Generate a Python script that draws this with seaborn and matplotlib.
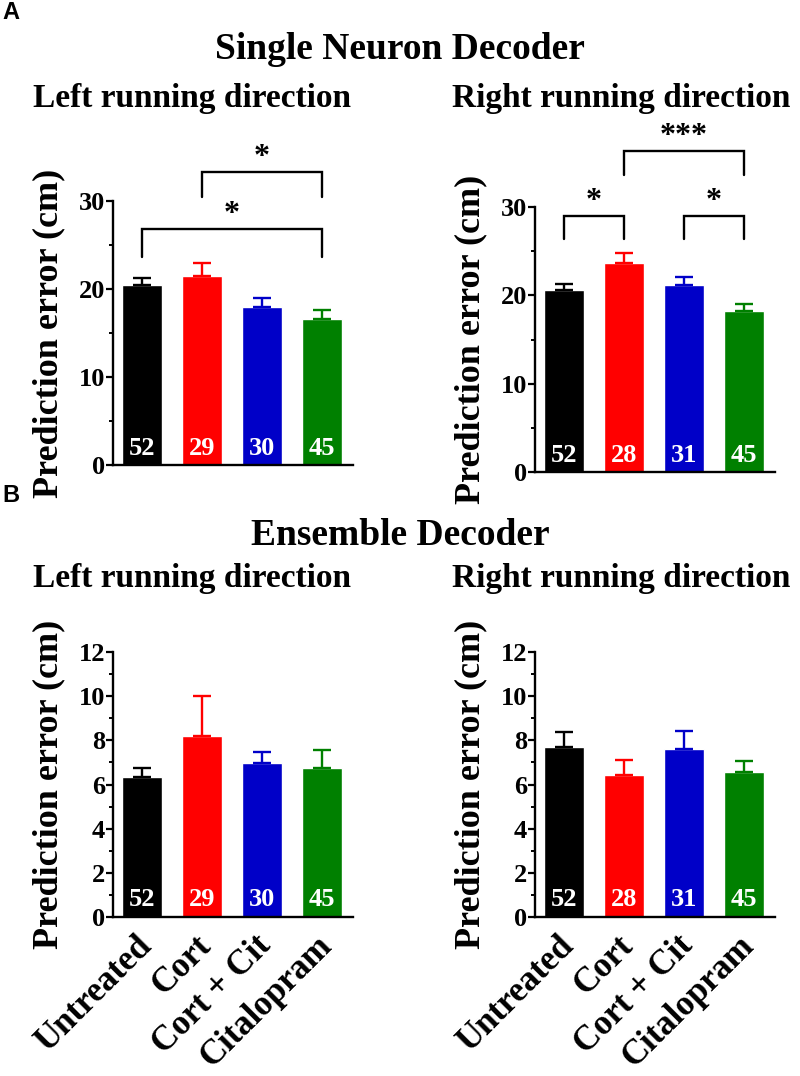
import numpy as np
import matplotlib
matplotlib.use("Agg")
import matplotlib.pyplot as plt
import seaborn as sns
from matplotlib.ticker import MultipleLocator
from matplotlib.transforms import ScaledTranslation

# DONNEES

groups = ["Untreated", "Cort", "Cort + Cit", "Citalopram"]
bar_colors = ["#000000", "#ff0000", "#0000c8", "#008000"]

# single neuron decoder
single_left_mean = [20.5, 21.5, 17.9, 16.6]
single_left_sem = [0.7, 1.4, 1.1, 1.0]
single_left_n = [52, 29, 30, 45]
single_right_mean = [20.6, 23.7, 21.2, 18.2]
single_right_sem = [0.7, 1.1, 0.9, 0.8]
single_right_n = [52, 28, 31, 45]

# ensemble decoder
ens_left_mean = [6.36, 8.18, 6.96, 6.76]
ens_left_sem = [0.40, 1.84, 0.50, 0.80]
ens_left_n = [52, 29, 30, 45]
ens_right_mean = [7.72, 6.45, 7.62, 6.55]
ens_right_sem = [0.66, 0.67, 0.80, 0.50]
ens_right_n = [52, 28, 31, 45]

# brackets : (groupe a, groupe b, hauteur, bas des pattes, etoiles)
sig_left = [(1, 3, 33.3, 30.5, "*"), (0, 3, 26.8, 23.6, "*")]
sig_right = [(0, 1, 29.0, 26.4, "*"), (1, 3, 36.3, 33.6, "***"), (2, 3, 29.0, 26.4, "*")]

sns.set_style("ticks")
plt.rcParams["font.family"] = ["Liberation Serif", "DejaVu Serif"]
plt.rcParams["font.weight"] = "bold"
plt.rcParams["axes.labelweight"] = "bold"
# tout en noir (seaborn met du gris fonce)
for k in ["text.color", "axes.labelcolor", "xtick.color", "ytick.color", "axes.edgecolor"]:
    plt.rcParams[k] = "black"


def draw_panel(ax, means, sems, ns, ymax, major, minor, n_offset, show_xlabels):
    sns.barplot(x=groups, y=means, hue=groups, palette=bar_colors, saturation=1,
                width=0.67, legend=False, ax=ax)
    # barres d'erreur (seulement vers le haut)
    for i in range(len(groups)):
        ax.errorbar(i, means[i], yerr=[[0], [sems[i]]], fmt="none",
                    ecolor=bar_colors[i], elinewidth=1.7, capsize=6.5, capthick=1.7)
    # effectifs dans les barres
    for i, n in enumerate(ns):
        ax.annotate(str(n), (i, 0), xytext=(0, n_offset), textcoords="offset points",
                    ha="center", va="baseline", color="white", fontsize=19, fontweight="bold")
    ax.set_xlim(-0.48, 3.52)
    ax.set_ylim(0, ymax)
    ax.yaxis.set_major_locator(MultipleLocator(major))
    ax.yaxis.set_minor_locator(MultipleLocator(minor))
    ax.set_ylabel("Prediction error (cm)", fontsize=26, fontweight="bold")
    ax.yaxis.set_label_coords(-0.2, 0.5)
    ax.set_xlabel("")
    sns.despine(ax=ax)
    for s in ["left", "bottom"]:
        ax.spines[s].set_linewidth(1.7)
    ax.tick_params(axis="y", which="major", length=5, width=1.6, direction="out",
                   labelsize=19, pad=0.5)
    ax.tick_params(axis="y", which="minor", length=3, width=1.4, direction="out")
    ax.tick_params(axis="x", length=5, width=1.6, direction="in")
    if show_xlabels:
        ax.set_xticks(range(len(groups)))
        ax.set_xticklabels(groups, rotation=45, ha="right", rotation_mode="anchor",
                           fontsize=25, fontweight="bold")
        ax.tick_params(axis="x", pad=9)
        shift = ScaledTranslation(-5 / 72, 0, ax.figure.dpi_scale_trans)
        for lab in ax.get_xticklabels():
            lab.set_transform(lab.get_transform() + shift)
    else:
        ax.set_xticklabels([])


def draw_brackets(ax, sigs):
    for a, b, top, leg, stars in sigs:
        ax.plot([a, a, b, b], [leg, top, top, leg], color="black", lw=1.7,
                clip_on=False, solid_joinstyle="miter")
        ax.annotate(stars, ((a + b) / 2, top), xytext=(0, 0), textcoords="offset points",
                    ha="center", va="bottom", fontsize=23, fontweight="bold",
                    annotation_clip=False)


fig = plt.figure(figsize=(8, 10.76), dpi=100)

H = 1076
ax1 = fig.add_axes([113 / 800, 1 - 465 / H, 0.30, 264 / H])
ax2 = fig.add_axes([535 / 800, 1 - 472 / H, 0.30, 265 / H])
ax3 = fig.add_axes([113 / 800, 1 - 917 / H, 0.30, 265 / H])
ax4 = fig.add_axes([535 / 800, 1 - 917 / H, 0.30, 265 / H])

draw_panel(ax1, single_left_mean, single_left_sem, single_left_n, 30, 10, 5, 7, False)
draw_panel(ax2, single_right_mean, single_right_sem, single_right_n, 30, 10, 5, 7, False)
draw_panel(ax3, ens_left_mean, ens_left_sem, ens_left_n, 12, 2, 1, 8, True)
draw_panel(ax4, ens_right_mean, ens_right_sem, ens_right_n, 12, 2, 1, 8, True)

draw_brackets(ax1, sig_left)
draw_brackets(ax2, sig_right)

# titres
fig.text(2 / 800, 1 - 1 / H, "A", ha="left", va="top", fontsize=17, fontweight="bold",
         family="Liberation Sans")
fig.text(2 / 800, 1 - 484 / H, "B", ha="left", va="top", fontsize=17, fontweight="bold",
         family="Liberation Sans")
fig.text(0.5, 1 - 59 / H, "Single Neuron Decoder", ha="center", va="baseline",
         fontsize=27, fontweight="bold")
fig.text(33 / 800, 1 - 107 / H, "Left running direction", ha="left", va="baseline",
         fontsize=24, fontweight="bold")
fig.text(452 / 800, 1 - 107 / H, "Right running direction", ha="left", va="baseline",
         fontsize=24, fontweight="bold")
fig.text(0.5, 1 - 545 / H, "Ensemble Decoder", ha="center", va="baseline",
         fontsize=27, fontweight="bold")
fig.text(33 / 800, 1 - 587 / H, "Left running direction", ha="left", va="baseline",
         fontsize=24, fontweight="bold")
fig.text(452 / 800, 1 - 587 / H, "Right running direction", ha="left", va="baseline",
         fontsize=24, fontweight="bold")

fig.savefig("out.png", dpi=100)
plt.close()
